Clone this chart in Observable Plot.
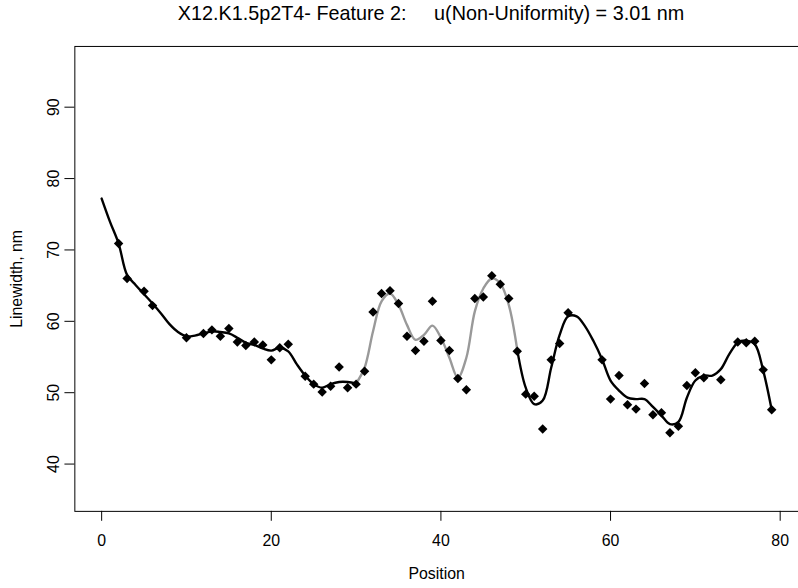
<!DOCTYPE html>
<html>
<head>
<meta charset="utf-8">
<script src="https://cdn.jsdelivr.net/npm/d3@7"></script>
<script src="https://cdn.jsdelivr.net/npm/@observablehq/plot@0.6"></script>
<style>
  html, body { margin: 0; padding: 0; background: #fff; }
  body { width: 798px; height: 588px; overflow: hidden; font-family: "Liberation Sans", Arial, sans-serif; }
  #title { width: 862px; height: 40px; line-height: 26px; font-size: 19.8px; text-align: center; white-space: pre; color: #000; }
  #chart svg { display: block; overflow: visible; }
</style>
</head>
<body>
<div id="title"></div>
<div id="chart"></div>
<script>
// Title text
const titleText = "X12.K1.5p2T4- Feature 2:     u(Non-Uniformity) = 3.01 nm";
const xLabel = "Position";
const yLabel = "Linewidth, nm";

// Axis ticks
const xTicks = [0, 20, 40, 60, 80];
const yTicks = [40, 50, 60, 70, 80, 90];

// Measured linewidths along the feature
const posX = [2, 3, 5, 6, 10, 12, 13, 14, 15, 16, 17, 18, 19, 20, 21, 22,
  24, 25, 26, 27, 28, 29, 30, 31, 32, 33, 34, 35, 36, 37, 38, 39, 40, 41, 42, 43,
  44, 45, 46, 47, 48, 49, 50, 51, 52, 53, 54, 55,
  59, 60, 61, 62, 63, 64, 65, 66, 67, 68, 69, 70, 71, 73, 75, 76, 77, 78, 79];
const widthY = [70.9, 66.0, 64.2, 62.2, 57.7, 58.3, 58.8, 57.9, 59.0, 57.1, 56.6, 57.1, 56.7, 54.6, 56.3, 56.8,
  52.3, 51.2, 50.1, 50.9, 53.6, 50.7, 51.2, 53.0, 61.3, 63.9, 64.3, 62.5, 57.9, 55.9, 57.2, 62.8, 57.3, 55.9, 52.0, 50.4,
  63.2, 63.4, 66.4, 65.2, 63.2, 55.8, 49.8, 49.5, 44.9, 54.6, 56.9, 61.2,
  54.6, 49.1, 52.4, 48.3, 47.7, 51.3, 46.9, 47.2, 44.4, 45.3, 51.0, 52.8, 52.1, 51.8, 57.1, 57.0, 57.2, 53.2, 47.6];

// Smoothed profile
const fitX = [0, 1, 2, 3, 4, 5, 6, 7, 8, 9, 10, 11, 12, 13, 14, 15, 16, 17, 18, 19,
  20, 21, 22, 23, 24, 25, 26, 27, 28, 29, 30, 31, 32, 33, 34, 35, 36, 37, 38, 39,
  40, 41, 42, 43, 44, 45, 46, 47, 48, 49, 50, 51, 52, 53, 54, 55, 56, 57, 58, 59,
  60, 61, 62, 63, 64, 65, 66, 67, 68, 69, 70, 71, 72, 73, 74, 75, 76, 77, 78, 79];
const fitY = [77.2, 73.9, 70.9, 66.5, 65.1, 63.8, 62.5, 61.1, 59.6, 58.5,
  57.9, 58.0, 58.3, 58.6, 58.5, 58.3, 57.7, 57.0, 56.7, 56.2,
  55.9, 56.3, 55.8, 54.0, 52.4, 51.2, 50.7, 51.2, 51.5, 51.5,
  51.3, 53.5, 58.6, 62.8, 63.9, 62.3, 59.5, 57.4, 58.1, 59.4,
  57.7, 54.9, 52.1, 54.9, 61.4, 64.6, 66.0, 65.3, 62.3, 56.0,
  50.7, 48.4, 48.9, 53.5, 58.1, 60.7, 60.7, 59.3, 57.2, 54.7,
  51.7, 50.3, 49.3, 49.1, 49.1, 48.0, 46.8, 45.6, 45.9, 49.3,
  51.7, 52.4, 52.4, 53.3, 55.4, 57.0, 57.3, 56.8, 53.1, 47.6];

// Stretch of the profile drawn in gray
const grayFrom = 30;
const grayTo = 49;

document.getElementById("title").textContent = titleText;

const points = posX.map((x, i) => ({x, y: widthY[i]}));
const fit = fitX.map((x, i) => ({x, y: fitY[i]}));
const fitBefore = fit.filter(d => d.x <= grayFrom);
const fitGray = fit.filter(d => d.x >= grayFrom && d.x <= grayTo);
const fitAfter = fit.filter(d => d.x >= grayTo);

const chart = Plot.plot({
  width: 805,
  height: 548,
  marginLeft: 75,
  marginRight: 0,
  marginTop: 6,
  marginBottom: 73,
  style: {fontFamily: "'Liberation Sans', Arial, sans-serif", fontSize: "16px", background: "white", color: "black"},
  x: {domain: [-3.16, 82.16], axis: null},
  y: {domain: [33.375, 98.51], axis: null},
  marks: [
    Plot.frame({stroke: "black", strokeWidth: 1}),
    Plot.axisX({ticks: xTicks, tickSize: 10, tickPadding: 14, fontSize: 16, label: null, stroke: "black", strokeWidth: 1}),
    Plot.axisY({ticks: yTicks, tickSize: 10, tickPadding: 6, tickRotate: -90, fontSize: 16, label: null, stroke: "black", strokeWidth: 1}),
    Plot.text([xLabel], {text: d => d, frameAnchor: "bottom", lineAnchor: "middle", textAnchor: "middle", dy: 63, fontSize: 16}),
    Plot.text([yLabel], {text: d => d, frameAnchor: "left", lineAnchor: "middle", textAnchor: "middle", dx: -58, rotate: -90, fontSize: 16}),
    Plot.line(fitBefore, {x: "x", y: "y", curve: "catmull-rom", stroke: "black", strokeWidth: 2.4}),
    Plot.line(fitAfter, {x: "x", y: "y", curve: "catmull-rom", stroke: "black", strokeWidth: 2.4}),
    Plot.line(fitGray, {x: "x", y: "y", curve: "catmull-rom", stroke: "#999", strokeWidth: 2.4}),
    Plot.dot(points, {x: "x", y: "y", symbol: "diamond2", r: 4.3, fill: "black", stroke: "none"})
  ]
});
document.getElementById("chart").appendChild(chart);
</script>
</body>
</html>
